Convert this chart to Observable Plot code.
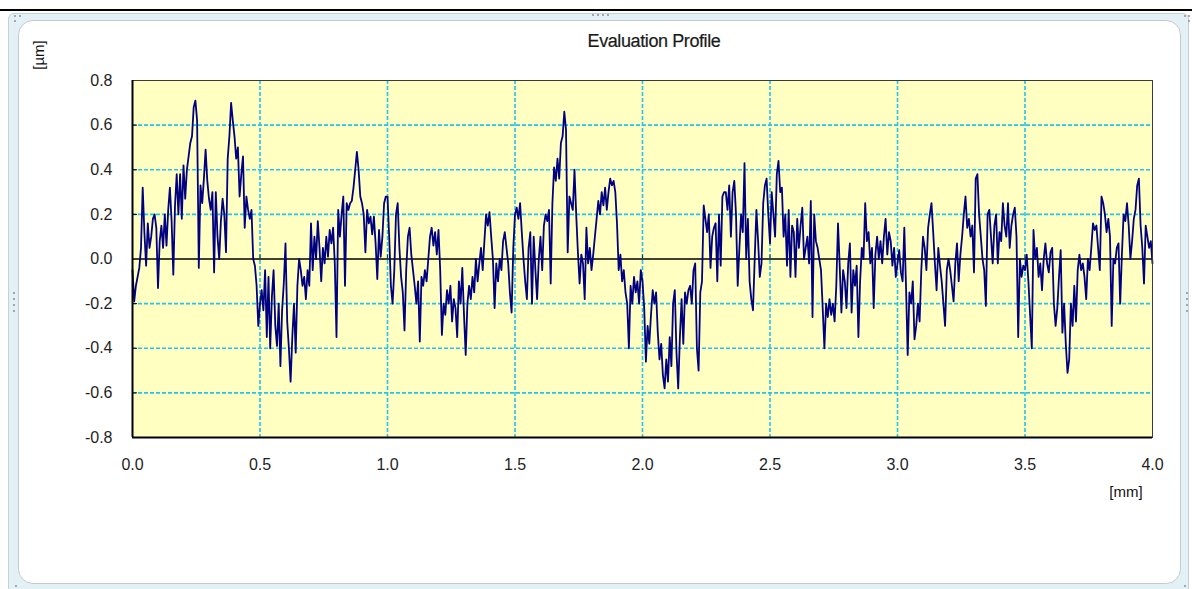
<!DOCTYPE html>
<html>
<head>
<meta charset="utf-8">
<script src="https://cdn.jsdelivr.net/npm/d3@7"></script>
<script src="https://cdn.jsdelivr.net/npm/@observablehq/plot@0.6"></script>
<style>
  html, body { margin: 0; padding: 0; background: #fff; }
  body { width: 1192px; height: 589px; position: relative; overflow: hidden; font-family: "Liberation Sans", Arial, sans-serif; }
  .abs { position: absolute; }
  .dot { position: absolute; width: 2px; height: 2px; background: #8a9296; border-radius: 1px; }
</style>
</head>
<body>
<div class="abs" style="left:0;top:9px;width:1192px;height:2px;background:#000"></div>
<div class="abs" style="left:8px;top:13px;width:1179px;height:590px;background:#e3f1f6;border:1px solid #c6d1d6;border-radius:6px"></div>
<div class="abs" style="left:18px;top:20px;width:1161px;height:562px;background:#fff;border:1.5px solid #c3cbcf;border-radius:15px"></div>
<div id="dots"></div>
<div id="chart" class="abs" style="left:0;top:0"></div>
<div class="abs" style="left:554px;top:31px;width:200px;text-align:center;font-size:18px;color:#1a1a1a;letter-spacing:-0.4px;-webkit-text-stroke:0.2px #1a1a1a">Evaluation Profile</div>
<div class="abs" style="left:19px;top:45px;width:40px;height:20px;text-align:center;font-size:15px;line-height:20px;color:#111;transform:rotate(-90deg)">[µm]</div>
<div class="abs" style="left:1096px;top:483px;width:60px;text-align:center;font-size:15px;color:#111">[mm]</div>
<script>
// Profile sampled every 0.5/75 mm from 0.0 to 4.0 mm (values in µm)
const sampleSpacing = 0.5 / 75;
const profile = [
  // 0.0 - 0.5
  -0.05,-0.19,-0.12,-0.08,-0.04,0.05,0.32,0.12,-0.03,0.16,
  0.05,0.1,0.18,0.2,0.14,-0.13,0.08,0.15,0.05,0.2,
  0.06,0.22,0.32,0.17,-0.07,0.24,0.38,0.2,0.38,0.18,
  0.42,0.27,0.4,0.46,0.52,0.55,0.68,0.71,0.62,-0.04,
  0.33,0.25,0.36,0.49,0.35,0.27,0.22,0.3,-0.06,0.3,
  0.1,0.0,0.17,0.27,0.2,0.03,0.45,0.55,0.7,0.62,
  0.55,0.45,0.5,0.28,0.38,0.46,0.14,0.28,0.22,0.18,
  0.22,0.0,-0.03,-0.12,-0.3,
  // 0.5 - 1.0
  -0.2,-0.14,-0.23,-0.05,-0.35,-0.08,-0.4,-0.17,-0.05,-0.3,
  -0.39,-0.2,-0.48,-0.23,-0.11,0.07,-0.28,-0.4,-0.55,-0.35,
  -0.2,-0.42,-0.12,0.0,-0.05,-0.12,-0.08,-0.18,-0.05,-0.12,
  0.16,-0.05,0.1,0.0,0.17,0.05,-0.1,0.05,-0.02,0.1,
  0.01,0.13,0.07,0.14,-0.02,-0.35,0.22,0.1,0.2,0.28,
  -0.12,0.25,0.22,0.25,0.26,0.32,0.4,0.48,0.4,0.28,
  0.25,0.2,0.03,0.22,0.16,0.19,0.11,0.19,0.07,-0.09,
  0.13,0.01,0.1,0.25,0.28,
  // 1.0 - 1.5
  0.28,0.1,-0.12,-0.2,-0.05,0.2,0.25,0.05,-0.08,-0.15,
  -0.32,-0.05,0.1,0.14,0.02,-0.05,-0.12,-0.2,-0.1,-0.37,
  -0.08,-0.12,-0.05,-0.1,0.0,0.1,0.14,0.06,0.12,0.02,
  0.13,-0.05,-0.34,-0.2,-0.25,-0.14,-0.2,-0.12,-0.28,-0.18,
  -0.22,-0.35,-0.1,-0.2,-0.04,-0.25,-0.43,-0.2,-0.12,-0.18,
  -0.08,-0.15,0.0,-0.1,-0.02,0.05,-0.05,0.08,0.2,0.15,
  0.21,0.1,0.0,-0.22,-0.02,-0.1,0.0,-0.05,0.08,0.12,
  0.05,-0.02,-0.15,-0.24,0.05,
  // 1.5 - 2.0
  0.2,0.23,0.18,0.25,0.12,0.0,-0.1,-0.18,0.05,0.12,
  -0.2,0.1,-0.05,-0.18,0.0,0.1,-0.05,0.15,0.2,0.17,
  0.22,-0.11,0.25,0.41,0.35,0.45,0.36,0.52,0.55,0.66,
  0.58,0.03,0.28,0.25,0.22,0.4,0.2,0.03,-0.11,0.02,
  -0.02,-0.18,0.14,-0.02,0.05,-0.05,0.02,0.1,0.18,0.26,
  0.2,0.3,0.24,0.32,0.22,0.3,0.36,0.33,0.35,0.3,
  0.16,-0.05,0.02,-0.1,-0.05,-0.15,-0.2,-0.4,-0.12,-0.2,
  -0.08,-0.15,-0.1,-0.2,-0.05,
  // 2.0 - 2.5
  -0.1,-0.22,-0.46,-0.3,-0.38,-0.25,-0.14,-0.2,-0.15,-0.33,
  -0.45,-0.38,-0.52,-0.58,-0.45,-0.55,-0.35,-0.48,-0.2,-0.14,
  -0.42,-0.58,-0.35,-0.18,-0.38,-0.15,-0.2,-0.14,-0.12,-0.2,
  -0.05,-0.02,-0.4,-0.5,-0.15,-0.1,0.24,0.18,0.12,0.2,
  -0.04,0.1,0.14,0.16,-0.1,0.2,-0.03,0.28,0.3,0.3,
  0.22,0.33,0.1,0.3,0.35,0.2,-0.12,0.05,0.2,0.12,
  0.43,0.0,0.18,-0.1,-0.18,-0.23,0.0,0.22,0.08,-0.08,
  -0.02,0.25,0.33,0.36,0.2,
  // 2.5 - 3.0
  0.07,0.3,0.2,0.1,0.38,0.44,0.3,0.32,0.1,0.2,
  -0.03,0.22,-0.08,0.15,0.12,-0.08,0.18,0.05,0.15,0.23,
  0.0,0.05,0.1,-0.02,0.26,-0.26,0.2,0.08,0.05,0.0,
  -0.05,-0.22,-0.4,-0.2,-0.26,-0.18,-0.25,-0.2,-0.28,-0.12,
  0.16,-0.03,-0.24,-0.05,-0.1,-0.22,-0.02,0.07,-0.24,-0.05,
  -0.12,-0.03,-0.35,-0.1,0.05,0.0,0.25,0.08,0.12,-0.02,
  0.05,-0.22,0.02,0.1,0.0,0.08,-0.02,0.1,0.18,0.02,
  0.12,0.08,-0.03,0.05,-0.08,
  // 3.0 - 3.5
  -0.02,0.04,-0.06,-0.1,0.14,-0.12,-0.43,-0.15,-0.2,-0.1,
  -0.36,-0.3,-0.2,-0.28,-0.05,0.1,0.05,-0.05,0.14,0.2,
  0.25,0.12,-0.02,-0.14,0.05,-0.03,-0.1,-0.2,-0.3,-0.05,
  0.0,-0.05,-0.12,-0.19,-0.02,0.07,-0.1,0.02,0.1,0.2,
  0.28,0.14,0.18,0.1,0.15,-0.06,0.36,0.38,0.2,0.1,
  0.0,-0.05,-0.21,0.2,0.22,0.1,-0.02,0.15,0.2,-0.02,
  0.12,0.08,0.25,0.15,0.1,0.25,0.05,0.15,0.2,0.23,
  0.1,-0.35,0.0,-0.08,-0.03,
  // 3.5 - 4.0
  -0.05,0.02,-0.1,-0.25,-0.4,0.13,0.0,0.05,-0.08,-0.02,
  -0.14,0.0,0.07,-0.02,-0.06,0.03,0.05,-0.2,-0.3,-0.22,
  -0.08,0.04,-0.33,-0.2,-0.38,-0.51,-0.45,-0.2,-0.3,-0.12,
  -0.28,-0.05,0.02,-0.05,-0.02,-0.08,-0.18,0.0,-0.05,0.05,
  0.16,0.13,0.15,0.05,-0.05,0.28,0.25,0.2,0.12,0.18,
  0.1,-0.3,0.0,-0.02,0.05,0.07,-0.2,0.02,0.2,0.17,
  0.25,0.15,0.0,0.08,0.18,0.22,0.33,0.36,0.15,0.05,
  -0.11,0.15,0.1,0.05,0.08,-0.02
];
const xTicks = [0, 0.5, 1.0, 1.5, 2.0, 2.5, 3.0, 3.5, 4.0];
const yTicks = [-0.8, -0.6, -0.4, -0.2, 0, 0.2, 0.4, 0.6, 0.8];

const xGrid = xTicks.filter(t => t > 0 && t < 4);
const yGrid = yTicks.filter(t => t !== 0 && Math.abs(t) < 0.8);
const gridStyle = {stroke: "#22c4f0", strokeWidth: 1.6, strokeDasharray: "4,2"};
const fmt = d => d.toFixed(1);

const chart = Plot.plot({
  width: 1192,
  height: 589,
  marginLeft: 132,
  marginRight: 40,
  marginTop: 80,
  marginBottom: 152,
  style: {background: "transparent", fontFamily: "'Liberation Sans', Arial, sans-serif", fontSize: "16px", color: "#1e1e1e"},
  x: {domain: [0, 4], ticks: xTicks, tickFormat: fmt, tickSize: 0, tickPadding: 21, label: null},
  y: {domain: [-0.8, 0.8], ticks: yTicks, tickFormat: fmt, tickSize: 0, tickPadding: 20, label: null},
  marks: [
    Plot.frame({fill: "#ffffc2"}),
    Plot.ruleX(xGrid, gridStyle),
    Plot.ruleY(yGrid, gridStyle),
    Plot.ruleY([0], {stroke: "#000", strokeWidth: 1.5}),
    Plot.ruleX(xGrid, {y1: () => 0, y2: () => 0, insetTop: -4, stroke: "#333", strokeWidth: 1}),
    Plot.ruleY(yGrid, {x1: () => 0, x2: () => 0, insetRight: -5, stroke: "#000", strokeWidth: 1}),
    Plot.line(profile, {x: (d, i) => i * sampleSpacing, y: d => d, stroke: "#000080", strokeWidth: 1.8}),
    Plot.frame({stroke: "#3a3a3a", strokeWidth: 1}),
    Plot.ruleX([0], {stroke: "#000", strokeWidth: 2}),
    Plot.ruleY([-0.8], {stroke: "#000", strokeWidth: 2})
  ]
});
document.getElementById("chart").appendChild(chart);

// small grip dots on the panel edges
const dotSpots = [
  [14,15],[19,15],[14,20],[1184,15],[1188,15],[1188,20],
  [592,14],[597,14],[602,14],[607,14],
  [13,292],[13,298],[13,304],[13,310],[1186,292],[1186,298],[1186,304],[1186,310],
  [15,585],[1184,585]
];
const dotsEl = document.getElementById("dots");
for (const [l, t] of dotSpots) {
  const d = document.createElement("div");
  d.className = "dot";
  d.style.left = l + "px";
  d.style.top = t + "px";
  dotsEl.appendChild(d);
}
</script>
</body>
</html>
